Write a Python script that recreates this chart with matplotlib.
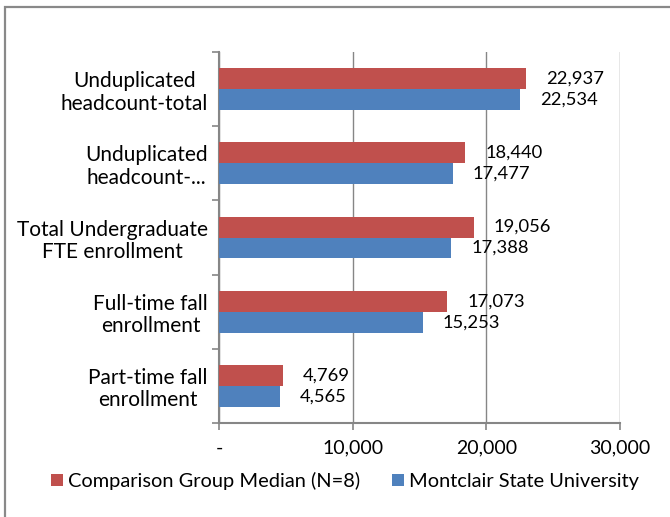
import matplotlib.pyplot as plt
from matplotlib.patches import Rectangle
from matplotlib.ticker import FixedLocator, FuncFormatter

# Data
categories = ['Unduplicated\nheadcount-total',
              'Unduplicated\nheadcount-...',
              'Total Undergraduate\nFTE enrollment',
              'Full-time fall\nenrollment',
              'Part-time fall\nenrollment']
comparison = [22937, 18440, 19056, 17073, 4769]
montclair = [22534, 17477, 17388, 15253, 4565]
series_names = ['Comparison Group Median (N=8)', 'Montclair State University']
red = '#C0504D'
blue = '#4F81BD'
gray = '#868686'

plt.rcParams['font.family'] = ['Lato', 'DejaVu Sans']

fig = plt.figure(figsize=(6.7, 5.17), dpi=100)
ax = fig.add_axes([219 / 670, 1 - 423 / 517, 401 / 670, 371 / 517])

# Outer chart border (left + top visible)
fig.patches.append(Rectangle((5 / 670, -0.1), 1.2, 1 - 7 / 517 + 0.1,
                             transform=fig.transFigure, fill=False,
                             edgecolor='#898989', linewidth=1.6))

h = 0.283
pos = list(range(len(categories)))
ax.barh([p - h / 2 for p in pos], comparison, height=h, color=red, label=series_names[0], zorder=3)
ax.barh([p + h / 2 for p in pos], montclair, height=h, color=blue, label=series_names[1], zorder=3)

# Value labels
for p, c, m in zip(pos, comparison, montclair):
    ax.annotate(f'{c:,}', (c, p - h / 2), xytext=(14.5, 0), textcoords='offset points',
                va='center', ha='left', fontsize=13.2)
    ax.annotate(f'{m:,}', (m, p + h / 2), xytext=(14.5, 0), textcoords='offset points',
                va='center', ha='left', fontsize=13.2)

ax.set_xlim(0, 30000)
ax.set_ylim(len(categories) - 0.5, -0.5)
ax.set_xticks([0, 10000, 20000, 30000])
ax.xaxis.set_major_formatter(FuncFormatter(lambda v, _: '-' if v == 0 else f'{int(v):,}'))
ax.grid(axis='x', color=gray, linewidth=1, zorder=0)

ax.set_yticks(pos)
ax.set_yticklabels(categories, multialignment='center', linespacing=1.15)
ax.yaxis.set_minor_locator(FixedLocator([p - 0.5 for p in pos] + [len(pos) - 0.5]))
ax.tick_params(axis='y', which='major', length=0, pad=8, labelsize=15)
ax.tick_params(axis='y', which='minor', length=5, color=gray, width=1.2)
ax.tick_params(axis='x', length=5, color=gray, width=1.2, pad=7, labelsize=14)

for side in ['top', 'right']:
    ax.spines[side].set_visible(False)
for side in ['left', 'bottom']:
    ax.spines[side].set_color(gray)
    ax.spines[side].set_linewidth(1.5)

handles, labels = ax.get_legend_handles_labels()
fig.legend(handles, labels, loc='center', bbox_to_anchor=(345 / 670, 1 - 481 / 517),
           ncol=2, frameon=False, fontsize=14.4, handlelength=0.6, handleheight=0.6,
           handletextpad=0.25, columnspacing=1.6)

fig.savefig('out.png', dpi=100)
